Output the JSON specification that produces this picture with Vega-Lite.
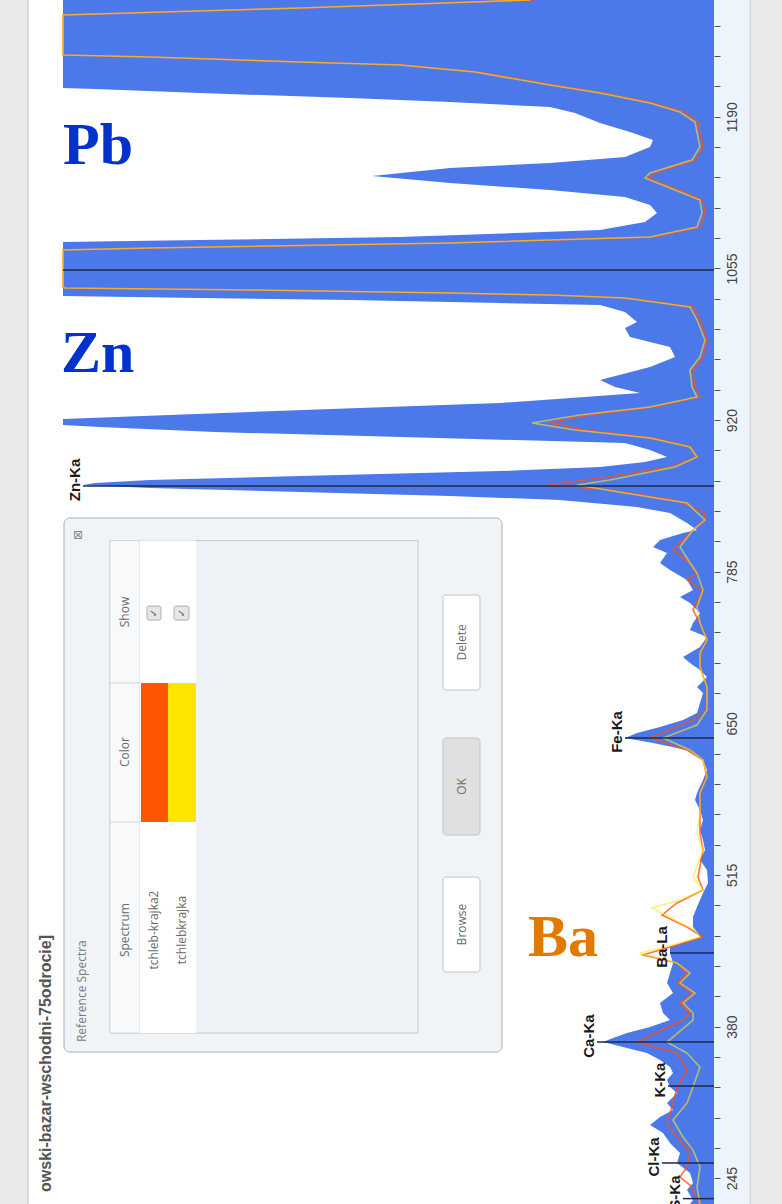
{
"$schema": "https://vega.github.io/schema/vega-lite/v6.json",
"width": 651, "height": 1204,
"autosize": {"type": "none"},
"padding": {"left": 63, "right": 68, "top": 0, "bottom": 0},
"background": "#e9e9e9",
"config": {"view": {"stroke": null}},
"resolve": {"scale": {"color": "independent"}},
"datasets": {
"panel": [{"v": 686, "v2": -36, "ch": 1300, "ch2": 200}],
"strip": [{"v": 0, "v2": -35.5, "ch": 1300, "ch2": 200}],
"spec": [
{"ch":1294.0,"v":651},{"ch":1215.6,"v":651},{"ch":1214.8,"v":619},{"ch":1211.2,"v":514},{"ch":1206.7,"v":364},{"ch":1203.2,"v":264},{"ch":1198.7,"v":164},{"ch":1193.4,"v":139},{"ch":1184.5,"v":114},{"ch":1176.5,"v":84},{"ch":1169.3,"v":61},{"ch":1163.1,"v":64},{"ch":1154.2,"v":89},{"ch":1148.9,"v":164},{"ch":1144.4,"v":264},{"ch":1137.3,"v":342},{"ch":1131.1,"v":264},{"ch":1124.8,"v":164},{"ch":1118.6,"v":89},{"ch":1111.5,"v":64},{"ch":1104.3,"v":57},{"ch":1096.3,"v":69},{"ch":1089.2,"v":114},{"ch":1083.0,"v":314},{"ch":1080.3,"v":514},{"ch":1078.5,"v":651},
{"ch":1030.4,"v":651},{"ch":1028.7,"v":514},{"ch":1026.9,"v":364},{"ch":1024.2,"v":214},{"ch":1022.4,"v":114},{"ch":1016.2,"v":89},{"ch":1007.3,"v":77},{"ch":1002.0,"v":89},{"ch":993.9,"v":84},{"ch":985.0,"v":44},{"ch":976.1,"v":39},{"ch":967.2,"v":64},{"ch":955.6,"v":114},{"ch":949.4,"v":99},{"ch":944.1,"v":74},{"ch":935.2,"v":214},{"ch":927.2,"v":464},{"ch":920.9,"v":651},{"ch":915.6,"v":651},{"ch":913.8,"v":614},{"ch":909.3,"v":499},{"ch":905.8,"v":349},{"ch":902.2,"v":199},{"ch":899.6,"v":89},{"ch":893.3,"v":64},{"ch":887.1,"v":47},{"ch":882.6,"v":69},{"ch":878.2,"v":114},{"ch":874.6,"v":214},{"ch":870.2,"v":414},{"ch":866.6,"v":564},{"ch":863.9,"v":619},{"ch":862.2,"v":631},{"ch":859.5,"v":564},{"ch":855.9,"v":414},{"ch":852.4,"v":264},{"ch":848.8,"v":154},{"ch":846.1,"v":121},{"ch":842.6,"v":77},{"ch":837.2,"v":44},{"ch":828.3,"v":27},{"ch":822.1,"v":17},{"ch":819.4,"v":31},{"ch":813.2,"v":54},{"ch":807.0,"v":61},{"ch":801.6,"v":47},{"ch":792.7,"v":54},{"ch":786.5,"v":44},{"ch":777.6,"v":27},{"ch":768.7,"v":21},{"ch":762.4,"v":34},{"ch":757.1,"v":24},{"ch":748.2,"v":14},{"ch":739.3,"v":21},{"ch":733.0,"v":24},{"ch":726.8,"v":7},{"ch":717.9,"v":14},{"ch":709.0,"v":31},{"ch":703.7,"v":24},{"ch":697.4,"v":14},{"ch":691.2,"v":7},{"ch":682.3,"v":17},{"ch":677.0,"v":11},{"ch":668.0,"v":14},{"ch":659.1,"v":17},{"ch":652.9,"v":31},{"ch":646.7,"v":54},{"ch":641.3,"v":77},{"ch":636.9,"v":89},{"ch":632.4,"v":61},{"ch":626.2,"v":27},{"ch":617.3,"v":11},{"ch":608.4,"v":7},{"ch":599.5,"v":11},{"ch":587.9,"v":17},{"ch":581.7,"v":19},{"ch":572.8,"v":14},{"ch":563.9,"v":11},{"ch":555.0,"v":14},{"ch":546.1,"v":11},{"ch":537.2,"v":9},{"ch":528.3,"v":14},{"ch":519.4,"v":7},{"ch":507.8,"v":6},{"ch":498.9,"v":11},{"ch":486.4,"v":17},{"ch":477.5,"v":21},{"ch":468.6,"v":21},{"ch":459.7,"v":14},{"ch":450.8,"v":44},{"ch":445.5,"v":44},{"ch":436.5,"v":41},{"ch":427.6,"v":44},{"ch":418.7,"v":47},{"ch":409.8,"v":41},{"ch":400.9,"v":54},{"ch":392.0,"v":51},{"ch":385.8,"v":44},{"ch":379.6,"v":64},{"ch":374.2,"v":87},{"ch":369.8,"v":101},{"ch":366.2,"v":111},{"ch":361.7,"v":91},{"ch":356.4,"v":67},{"ch":350.2,"v":54},{"ch":343.9,"v":44},{"ch":338.6,"v":41},{"ch":332.4,"v":47},{"ch":326.1,"v":44},{"ch":320.8,"v":37},{"ch":311.9,"v":47},{"ch":305.7,"v":41},{"ch":299.4,"v":54},{"ch":292.3,"v":64},{"ch":285.2,"v":51},{"ch":276.3,"v":44},{"ch":267.4,"v":34},{"ch":258.5,"v":37},{"ch":249.6,"v":24},{"ch":240.7,"v":21},{"ch":234.4,"v":27},{"ch":225.5,"v":21},{"ch":222.0,"v":24}
],
"refs": [
{"s":"o","ch":1294.0,"v":180},{"s":"o","ch":1286.9,"v":410},{"s":"o","ch":1280.6,"v":651},{"s":"o","ch":1245.0,"v":651},{"s":"o","ch":1243.2,"v":560},{"s":"o","ch":1238.8,"v":410},{"s":"o","ch":1236.1,"v":310},{"s":"o","ch":1229.9,"v":235},{"s":"o","ch":1218.3,"v":160},{"s":"o","ch":1211.2,"v":110},{"s":"o","ch":1202.3,"v":60},{"s":"o","ch":1194.3,"v":30},{"s":"o","ch":1185.4,"v":16},{"s":"o","ch":1163.1,"v":11},{"s":"o","ch":1151.5,"v":19},{"s":"o","ch":1140.0,"v":60},{"s":"o","ch":1135.5,"v":66},{"s":"o","ch":1124.8,"v":35},{"s":"o","ch":1115.9,"v":11},{"s":"o","ch":1104.3,"v":9},{"s":"o","ch":1091.9,"v":14},{"s":"o","ch":1083.0,"v":60},{"s":"o","ch":1077.6,"v":260},{"s":"o","ch":1073.2,"v":560},{"s":"o","ch":1071.4,"v":651},{"s":"o","ch":1038.5,"v":651},{"s":"o","ch":1037.6,"v":645},{"s":"o","ch":1035.8,"v":460},{"s":"o","ch":1033.1,"v":260},{"s":"o","ch":1031.3,"v":160},{"s":"o","ch":1028.7,"v":85},{"s":"o","ch":1020.6,"v":21},{"s":"o","ch":1009.1,"v":14},{"s":"o","ch":991.3,"v":7},{"s":"o","ch":976.1,"v":11},{"s":"o","ch":964.5,"v":21},{"s":"o","ch":949.4,"v":19},{"s":"o","ch":940.5,"v":14},{"s":"o","ch":931.6,"v":60},
{"s":"o","ch":924.5,"v":124},{"s":"o","ch":917.4,"v":164},{"s":"o","ch":911.1,"v":129},{"s":"o","ch":904.0,"v":59},{"s":"o","ch":896.0,"v":24},{"s":"o","ch":887.1,"v":17},{"s":"o","ch":878.2,"v":44},{"s":"o","ch":868.4,"v":114},{"s":"o","ch":862.2,"v":166},{"s":"o","ch":857.7,"v":104},{"s":"o","ch":848.8,"v":39},{"s":"o","ch":837.2,"v":9},{"s":"o","ch":831.0,"v":9},{"s":"o","ch":822.1,"v":21},{"s":"o","ch":804.3,"v":41},{"s":"o","ch":792.7,"v":24},{"s":"o","ch":783.8,"v":17},{"s":"o","ch":777.6,"v":27},{"s":"o","ch":768.7,"v":11},{"s":"o","ch":750.9,"v":21},{"s":"o","ch":739.3,"v":14},{"s":"o","ch":724.1,"v":7},{"s":"o","ch":712.6,"v":14},{"s":"o","ch":700.1,"v":14},{"s":"o","ch":682.3,"v":7},{"s":"o","ch":661.8,"v":7},{"s":"o","ch":652.9,"v":21},{"s":"o","ch":636.9,"v":64},{"s":"o","ch":626.2,"v":27},{"s":"o","ch":617.3,"v":11},{"s":"o","ch":602.2,"v":7},{"s":"o","ch":587.9,"v":14},{"s":"o","ch":572.8,"v":14},{"s":"o","ch":552.3,"v":14},{"s":"o","ch":537.2,"v":11},{"s":"o","ch":513.1,"v":16},{"s":"o","ch":501.5,"v":11},{"s":"o","ch":490.0,"v":37},{"s":"o","ch":479.3,"v":52},{"s":"o","ch":468.6,"v":27},{"s":"o","ch":459.7,"v":11},{"s":"o","ch":450.8,"v":44},{"s":"o","ch":443.7,"v":71},{"s":"o","ch":436.5,"v":37},{"s":"o","ch":427.6,"v":27},{"s":"o","ch":418.7,"v":37},{"s":"o","ch":409.8,"v":21},{"s":"o","ch":400.9,"v":34},{"s":"o","ch":392.0,"v":24},{"s":"o","ch":385.8,"v":31},{"s":"o","ch":366.2,"v":77},{"s":"o","ch":356.4,"v":37},{"s":"o","ch":341.3,"v":27},{"s":"o","ch":326.1,"v":37},{"s":"o","ch":311.9,"v":41},{"s":"o","ch":294.1,"v":47},{"s":"o","ch":281.6,"v":37},{"s":"o","ch":267.4,"v":24},{"s":"o","ch":254.9,"v":27},{"s":"o","ch":246.0,"v":34},{"s":"o","ch":238.9,"v":24},{"s":"o","ch":230.0,"v":19},{"s":"o","ch":222.0,"v":14},
{"s":"y","ch":1294.0,"v":184},{"s":"y","ch":1286.9,"v":414},{"s":"y","ch":1280.6,"v":651},{"s":"y","ch":1245.0,"v":651},{"s":"y","ch":1243.2,"v":564},{"s":"y","ch":1238.8,"v":414},{"s":"y","ch":1236.1,"v":314},{"s":"y","ch":1229.9,"v":239},{"s":"y","ch":1218.3,"v":164},{"s":"y","ch":1211.2,"v":114},{"s":"y","ch":1202.3,"v":64},{"s":"y","ch":1194.3,"v":34},{"s":"y","ch":1185.4,"v":19},{"s":"y","ch":1163.1,"v":14},{"s":"y","ch":1151.5,"v":22},{"s":"y","ch":1140.0,"v":64},{"s":"y","ch":1135.5,"v":69},{"s":"y","ch":1124.8,"v":39},{"s":"y","ch":1115.9,"v":14},{"s":"y","ch":1104.3,"v":12},{"s":"y","ch":1091.9,"v":17},{"s":"y","ch":1083.0,"v":64},{"s":"y","ch":1077.6,"v":264},{"s":"y","ch":1073.2,"v":564},{"s":"y","ch":1071.4,"v":651},{"s":"y","ch":1038.5,"v":651},{"s":"y","ch":1037.6,"v":649},{"s":"y","ch":1035.8,"v":464},{"s":"y","ch":1033.1,"v":264},{"s":"y","ch":1031.3,"v":164},{"s":"y","ch":1028.7,"v":89},{"s":"y","ch":1020.6,"v":24},{"s":"y","ch":1009.1,"v":17},{"s":"y","ch":991.3,"v":9},{"s":"y","ch":976.1,"v":14},{"s":"y","ch":964.5,"v":24},{"s":"y","ch":949.4,"v":22},{"s":"y","ch":940.5,"v":17},{"s":"y","ch":931.6,"v":64},
{"s":"y","ch":924.5,"v":134},{"s":"y","ch":917.4,"v":182},{"s":"y","ch":911.1,"v":139},{"s":"y","ch":904.0,"v":64},{"s":"y","ch":896.0,"v":24},{"s":"y","ch":887.1,"v":17},{"s":"y","ch":878.2,"v":39},{"s":"y","ch":866.6,"v":104},{"s":"y","ch":862.2,"v":137},{"s":"y","ch":855.0,"v":89},{"s":"y","ch":846.1,"v":27},{"s":"y","ch":831.0,"v":9},{"s":"y","ch":822.1,"v":21},{"s":"y","ch":807.0,"v":34},{"s":"y","ch":792.7,"v":24},{"s":"y","ch":783.8,"v":17},{"s":"y","ch":768.7,"v":11},{"s":"y","ch":753.5,"v":17},{"s":"y","ch":739.3,"v":14},{"s":"y","ch":724.1,"v":7},{"s":"y","ch":712.6,"v":14},{"s":"y","ch":700.1,"v":14},{"s":"y","ch":682.3,"v":7},{"s":"y","ch":661.8,"v":7},{"s":"y","ch":648.5,"v":17},{"s":"y","ch":636.9,"v":51},{"s":"y","ch":626.2,"v":24},{"s":"y","ch":617.3,"v":11},{"s":"y","ch":602.2,"v":7},{"s":"y","ch":587.9,"v":14},{"s":"y","ch":572.8,"v":14},{"s":"y","ch":552.3,"v":17},{"s":"y","ch":537.2,"v":11},{"s":"y","ch":513.1,"v":21},{"s":"y","ch":501.5,"v":11},{"s":"y","ch":492.6,"v":34},{"s":"y","ch":485.5,"v":62},{"s":"y","ch":474.8,"v":39},{"s":"y","ch":465.9,"v":19},{"s":"y","ch":459.7,"v":14},{"s":"y","ch":450.8,"v":49},{"s":"y","ch":445.5,"v":74},{"s":"y","ch":436.5,"v":37},{"s":"y","ch":427.6,"v":24},{"s":"y","ch":418.7,"v":34},{"s":"y","ch":409.8,"v":19},{"s":"y","ch":400.9,"v":31},{"s":"y","ch":392.0,"v":21},{"s":"y","ch":385.8,"v":21},{"s":"y","ch":366.2,"v":47},{"s":"y","ch":356.4,"v":27},{"s":"y","ch":343.9,"v":14},{"s":"y","ch":326.1,"v":21},{"s":"y","ch":311.9,"v":27},{"s":"y","ch":296.8,"v":41},{"s":"y","ch":281.6,"v":31},{"s":"y","ch":270.0,"v":21},{"s":"y","ch":254.9,"v":14},{"s":"y","ch":237.1,"v":17},{"s":"y","ch":222.0,"v":14}
],
"peaks": [
{"ch":1053.6,"v":651,"t":""},{"ch":861.3,"v":631,"t":"Zn-Ka"},{"ch":636.9,"v":89,"t":"Fe-Ka"},{"ch":445.5,"v":44,"t":"Ba-La"},{"ch":366.2,"v":117,"t":"Ca-Ka"},{"ch":327.0,"v":46,"t":"K-Ka"},{"ch":258.5,"v":52,"t":"Cl-Ka"},{"ch":226.8,"v":31,"t":"S-Ka"}
],
"big": [{"t":"Pb","v":651,"ch":1148.0},{"t":"Zn","v":653,"ch":962.8},{"t":"Ba","v":186,"ch":442.8}],
"wtitle": [{"t":"owski-bazar-wschodni-75odrocie]","v":663,"ch":461.5}],
"dlg": [{"v":650,"v2":212,"ch":832.8,"ch2":357.3}],
"table": [{"v":604,"v2":296,"ch":812.7,"ch2":374.2}],
"hdr": [{"v":604,"v2":574,"ch":812.7,"ch2":374.2}],
"rowsw": [{"v":574,"v2":518,"ch":812.7,"ch2":374.2}],
"swatch": [{"s":"tchleb-krajka2","v":573,"v2":546,"ch":685.9,"ch2":562.1},{"s":"tchlebkrajka","v":546,"v2":518,"ch":685.9,"ch2":562.1}],
"divs": [{"v":604,"v2":574,"ch":685.9},{"v":604,"v2":574,"ch":562.1}],
"checks": [{"v":567,"v2":553,"ch":754.4,"ch2":741.9},{"v":540,"v2":525,"ch":754.4,"ch2":741.9}],
"checkmarks": [{"v":560,"ch":748.2,"t":"✓"},{"v":532.5,"ch":748.2,"t":"✓"}],
"buttons": [{"b":"Delete","v":271,"v2":234,"ch":764.2,"ch2":679.6},{"b":"OK","v":271,"v2":234,"ch":636.9,"ch2":550.5},{"b":"Browse","v":271,"v2":234,"ch":513.1,"ch2":428.5}],
"dtext": [{"t":"Show","v":589,"ch":749.1},{"t":"Color","v":589,"ch":624.4},{"t":"Spectrum","v":589,"ch":465.9},{"t":"tchleb-krajka2","v":560,"ch":465.9},{"t":"tchlebkrajka","v":532,"ch":465.9},{"t":"Delete","v":252.5,"ch":722},{"t":"OK","v":252.5,"ch":593.7},{"t":"Browse","v":252.5,"ch":470.8}],
"dtitle": [{"t":"Reference Spectra","v":632,"ch":366.2}],
"dclose": [{"t":"⊠","v":636,"ch":817.6}]
},
"encoding": {
"y": {"field": "ch", "type": "quantitative", "scale": {"domain": [222, 1294], "nice": false, "zero": false},
 "axis": {"title": null, "orient": "right", "format": "d",
  "values": [245,272,299,326,353,380,407,434,461,488,515,542,569,596,623,650,677,704,731,758,785,812,839,866,893,920,947,974,1001,1028,1055,1082,1109,1136,1163,1190,1217,1244,1271],
  "labelExpr": "(datum.value - 245) % 135 === 0 ? datum.label : ''",
  "labelAngle": 270, "labelAlign": "center", "labelBaseline": "top", "labelFont": "Liberation Sans", "labelFontSize": 14, "labelColor": "#444444",
  "labelPadding": 5, "labelFlush": false, "labelOverlap": false, "labelBound": false,
  "tickColor": "#555555", "tickSize": 6, "tickWidth": 1, "domain": false, "grid": false, "zindex": 1}},
"x": {"field": "v", "type": "quantitative", "scale": {"domain": [0, 651], "nice": false, "zero": false, "reverse": true}, "axis": null}
},
"layer": [
{"data": {"name": "panel"}, "mark": {"type": "rect", "fill": "#ffffff", "stroke": "#bdbdbd", "strokeWidth": 1}, "encoding": {"x2": {"field": "v2"}, "y2": {"field": "ch2"}}},
{"data": {"name": "strip"}, "mark": {"type": "rect", "fill": "#eef4fb"}, "encoding": {"x2": {"field": "v2"}, "y2": {"field": "ch2"}}},
{"data": {"name": "spec"}, "mark": {"type": "area", "orient": "horizontal", "color": "#4b79ea", "opacity": 1}},
{"data": {"name": "refs"}, "transform": [{"filter": "datum.s === 'o'"}], "mark": {"type": "line", "color": "#ff4d1a", "strokeWidth": 1.6, "opacity": 0.8}, "encoding": {"order": {"field": "ch", "type": "quantitative"}}},
{"data": {"name": "refs"}, "transform": [{"filter": "datum.s === 'y'"}], "mark": {"type": "line", "color": "#ffe81a", "strokeWidth": 1.6, "opacity": 0.6}, "encoding": {"order": {"field": "ch", "type": "quantitative"}}},
{"data": {"name": "peaks"}, "mark": {"type": "rule", "color": "#1d2a4d", "strokeWidth": 1.5}, "encoding": {"x2": {"datum": 0}}},
{"data": {"name": "peaks"}, "transform": [{"filter": "datum.t !== ''"}], "mark": {"type": "text", "angle": 270, "align": "center", "baseline": "bottom", "dx": 6, "font": "Liberation Sans", "fontWeight": "bold", "fontSize": 15, "color": "#1a1a1a"}, "encoding": {"text": {"field": "t"}}},
{"data": {"name": "big"}, "mark": {"type": "text", "align": "left", "baseline": "alphabetic", "font": "Liberation Serif", "fontWeight": "bold", "fontSize": 60}, "encoding": {"text": {"field": "t"}, "color": {"field": "t", "type": "nominal", "scale": {"domain": ["Pb", "Zn", "Ba"], "range": ["#0033cc", "#0033cc", "#e07b00"]}, "legend": null}}},
{"data": {"name": "wtitle"}, "mark": {"type": "text", "angle": 270, "align": "right", "baseline": "alphabetic", "font": "Liberation Sans", "fontWeight": "bold", "fontSize": 16, "color": "#555555"}, "encoding": {"text": {"field": "t"}}},
{"data": {"name": "dlg"}, "mark": {"type": "rect", "fill": "#f1f4f7", "stroke": "#a9aeb3", "strokeWidth": 1, "cornerRadius": 6}, "encoding": {"x2": {"field": "v2"}, "y2": {"field": "ch2"}}},
{"data": {"name": "table"}, "mark": {"type": "rect", "fill": "#eef2f6", "stroke": "#c5cad0", "strokeWidth": 1}, "encoding": {"x2": {"field": "v2"}, "y2": {"field": "ch2"}}},
{"data": {"name": "hdr"}, "mark": {"type": "rect", "fill": "#f8f9fb", "stroke": "#d2d6db", "strokeWidth": 1}, "encoding": {"x2": {"field": "v2"}, "y2": {"field": "ch2"}}},
{"data": {"name": "rowsw"}, "mark": {"type": "rect", "fill": "#ffffff"}, "encoding": {"x2": {"field": "v2"}, "y2": {"field": "ch2"}}},
{"data": {"name": "swatch"}, "mark": {"type": "rect"}, "encoding": {"x2": {"field": "v2"}, "y2": {"field": "ch2"}, "color": {"field": "s", "type": "nominal", "scale": {"domain": ["tchleb-krajka2", "tchlebkrajka"], "range": ["#ff5500", "#ffe600"]}, "legend": null}}},
{"data": {"name": "divs"}, "mark": {"type": "rule", "color": "#d2d6db", "strokeWidth": 1}, "encoding": {"x2": {"field": "v2"}}},
{"data": {"name": "checks"}, "mark": {"type": "rect", "fill": "#e6e6e6", "stroke": "#a0a0a0", "strokeWidth": 0.8, "cornerRadius": 2}, "encoding": {"x2": {"field": "v2"}, "y2": {"field": "ch2"}}},
{"data": {"name": "checkmarks"}, "mark": {"type": "text", "angle": 270, "align": "center", "baseline": "middle", "font": "DejaVu Sans", "fontSize": 10, "color": "#555555"}, "encoding": {"text": {"field": "t"}}},
{"data": {"name": "buttons"}, "mark": {"type": "rect", "stroke": "#c4c4c4", "strokeWidth": 1, "cornerRadius": 3}, "encoding": {"x2": {"field": "v2"}, "y2": {"field": "ch2"}, "color": {"field": "b", "type": "nominal", "scale": {"domain": ["Delete", "OK", "Browse"], "range": ["#ffffff", "#e0e0e0", "#ffffff"]}, "legend": null}}},
{"data": {"name": "dtext"}, "mark": {"type": "text", "angle": 270, "align": "center", "baseline": "middle", "font": "Open Sans", "fontSize": 12, "color": "#6a6a6a"}, "encoding": {"text": {"field": "t"}}},
{"data": {"name": "dtitle"}, "mark": {"type": "text", "angle": 270, "align": "left", "baseline": "middle", "font": "Open Sans", "fontSize": 12, "color": "#7a7a7a"}, "encoding": {"text": {"field": "t"}}},
{"data": {"name": "dclose"}, "mark": {"type": "text", "angle": 270, "align": "center", "baseline": "middle", "font": "DejaVu Sans", "fontSize": 12, "color": "#8a8a8a"}, "encoding": {"text": {"field": "t"}}}
]
}
